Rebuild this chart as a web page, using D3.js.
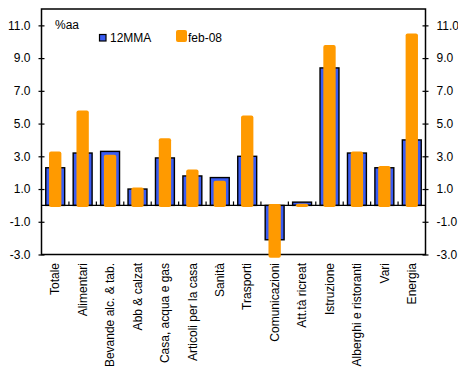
<!DOCTYPE html>
<html>
<head>
<meta charset="utf-8">
<script src="https://cdn.jsdelivr.net/npm/d3@7"></script>
<style>
  html, body { margin: 0; padding: 0; background: #fff; }
  svg { display: block; font-family: "Liberation Sans", Arial, sans-serif; }
</style>
</head>
<body>
<svg id="chart" width="458" height="374"></svg>
<script>
// Inflation by spending category, % year on year
const categories = [
  "Totale", "Alimentari", "Bevande alc. & tab.", "Abb & calzat",
  "Casa, acqua e gas", "Articoli per la casa", "Sanità", "Trasporti",
  "Comunicazioni", "Att.tà ricreat", "Istruzione", "Alberghi e ristoranti",
  "Vari", "Energia"
];
const avg12m = [2.3, 3.2, 3.3, 1.0, 2.9, 1.8, 1.7, 3.0, -2.1, 0.2, 8.4, 3.2, 2.3, 4.0];
const feb08  = [3.3, 5.8, 3.1, 1.1, 4.1, 2.2, 1.5, 5.5, -3.2, 0.1, 9.8, 3.3, 2.4, 10.5];
const seriesNames = ["12MMA", "feb-08"];
const yTicks = [-3, -1, 1, 3, 5, 7, 9, 11];
const unitLabel = "%aa";

const svg = d3.select("#chart");
const plot = { left: 41.5, right: 425.5, top: 9, bottom: 254.5 };
const blue = "#3a5cf2", orange = "#ff9a00";

const x = d3.scaleBand().domain(categories).range([plot.left, plot.right]).padding(0);
const y = d3.scaleLinear().domain([-3, 12]).range([plot.bottom, plot.top]);
const fmt = v => v.toFixed(1);

// frame
svg.append("rect")
  .attr("x", plot.left).attr("y", plot.top)
  .attr("width", plot.right - plot.left).attr("height", plot.bottom - plot.top)
  .attr("fill", "none").attr("stroke", "#000").attr("stroke-width", 1.5);

// left and right value axes
const yAxisL = d3.axisLeft(y).tickValues(yTicks).tickFormat(fmt).tickSizeInner(4).tickSizeOuter(0).tickPadding(7);
const yAxisR = d3.axisRight(y).tickValues(yTicks).tickFormat(fmt).tickSizeInner(4).tickSizeOuter(0).tickPadding(7);
[[yAxisL, plot.left], [yAxisR, plot.right]].forEach(([ax, px]) => {
  const g = svg.append("g").attr("transform", `translate(${px},0)`).call(ax);
  g.select(".domain").remove();
  g.selectAll(".tick line").attr("stroke", "#000").attr("stroke-width", 1.2)
    .attr("x1", -3).attr("x2", 3);
  g.selectAll(".tick text").attr("font-size", 12).attr("fill", "#000")
    .attr("font-family", "Liberation Sans, Arial, sans-serif");
});

// 12-month average bars
const bw = x.bandwidth() * 0.69;
svg.append("g").selectAll("rect").data(categories).join("rect")
  .attr("x", (d) => x(d) + (x.bandwidth() - bw) / 2)
  .attr("y", (d, i) => Math.min(y(avg12m[i]), y(0)))
  .attr("width", bw)
  .attr("height", (d, i) => Math.abs(y(avg12m[i]) - y(0)))
  .attr("fill", blue).attr("stroke", "#000").attr("stroke-width", 1.4);

// zero line with category ticks
svg.append("line")
  .attr("x1", plot.left).attr("x2", plot.right).attr("y1", y(0)).attr("y2", y(0))
  .attr("stroke", "#000").attr("stroke-width", 1.4);
svg.append("g").selectAll("line").data(categories.slice(1)).join("line")
  .attr("x1", d => x(d)).attr("x2", d => x(d))
  .attr("y1", y(0)).attr("y2", y(0) - 4)
  .attr("stroke", "#000").attr("stroke-width", 1.2);

// latest month bars
const ow = x.bandwidth() * 0.45;
svg.append("g").selectAll("rect").data(categories).join("rect")
  .attr("x", (d) => x(d) + (x.bandwidth() - ow) / 2)
  .attr("y", (d, i) => feb08[i] >= 0 ? y(feb08[i]) : y(0) - 1.5)
  .attr("width", ow)
  .attr("height", (d, i) => Math.abs(y(feb08[i]) - y(0)) + 1.5)
  .attr("rx", 2).attr("ry", 2)
  .attr("fill", orange);

// category labels, rotated
svg.append("g").selectAll("text").data(categories).join("text")
  .attr("transform", d => `translate(${x(d) + x.bandwidth() / 2},263) rotate(-90)`)
  .attr("text-anchor", "end")
  .attr("dy", "0.35em")
  .attr("font-size", 12)
  .text(d => d);

// unit label
svg.append("text").attr("x", 55).attr("y", 29).attr("font-size", 12).text(unitLabel);

// legend
const lg = svg.append("g");
lg.append("rect").attr("x", 99.5).attr("y", 34.5).attr("width", 6.5).attr("height", 6.5)
  .attr("fill", blue).attr("stroke", "#000").attr("stroke-width", 1.2);
lg.append("text").attr("x", 110).attr("y", 42).attr("font-size", 12).text(seriesNames[0]);
lg.append("rect").attr("x", 176).attr("y", 30).attr("width", 11).attr("height", 12)
  .attr("rx", 2).attr("fill", orange);
lg.append("text").attr("x", 188).attr("y", 42).attr("font-size", 12).text(seriesNames[1]);
</script>
</body>
</html>
